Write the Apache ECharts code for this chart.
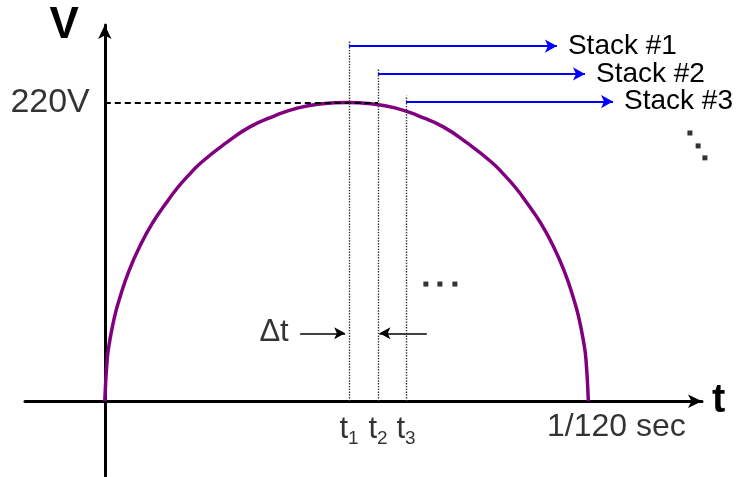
<!DOCTYPE html>
<html>
<head>
<meta charset="utf-8">
<script src="https://cdn.jsdelivr.net/npm/echarts@6/dist/echarts.min.js"></script>
<style>
  html, body { margin: 0; padding: 0; background: #fff; }
  #main { width: 738px; height: 477px; }
</style>
</head>
<body>
<div id="main"></div>
<script>
// half cycle of the voltage, time in % of 1/120 sec
const curveT = [0, 0.5, 1, 2, 3, 5, 7.5, 10, 12.5, 15, 17.5, 20, 25, 30, 35, 40, 45, 50, 55, 60, 65, 70, 75, 80, 82.5, 85, 87.5, 90, 92.5, 95, 97, 98, 99, 99.5, 100];
const curveV = [0, 31, 44, 62, 75, 96, 116, 132, 145, 157, 167, 176, 190, 202, 210, 216, 219, 220, 219, 216, 210, 202, 190, 176, 167, 157, 145, 132, 116, 96, 75, 62, 44, 31, 0];

const peakV = 220;
const peakLabel = '220V';

// sample times t1..t3 and the stacks they feed
const stackT = [50.5, 56.5, 62.3];
const stackTop = [266, 245, 225];
const stackArrowV = [261.5, 241, 220.6];
const stackArrowEnd = [93.5, 99.3, 105.1];
const stackNames = ['Stack #1', 'Stack #2', 'Stack #3'];

// t labels under the axis
const tickT = [50.5, 56.5, 62.3];
const tickSub = ['1', '2', '3'];
const endT = 100;
const endLabel = '1/120 sec';

// Δt arrows
const deltaV = 50;
const deltaLeft = [40.4, 49.7];
const deltaRight = [66.6, 56.8];
const deltaLabelPos = [35, 51];

// ellipsis dots
const dotsMid = [[66.4, 86.3], [69.3, 86.3], [72.4, 86.3]];
const dotsDiag = [[121.0, 197.5], [122.7, 188], [124.1, 179.2]];

const FONT = '"Liberation Sans", Arial, sans-serif';

const chart = echarts.init(document.getElementById('main'));

const markData = [];
// dashed 220V line
markData.push([
  { coord: [0, peakV], symbol: 'none', lineStyle: { color: '#000', width: 2, type: [6, 4] } },
  { coord: [stackT[1], peakV], symbol: 'none' }
]);
stackT.forEach((t, i) => {
  markData.push([
    { coord: [t, 0], symbol: 'none', lineStyle: { color: '#333', width: 1.4, type: [1.4, 1.4] } },
    { coord: [t, stackTop[i]], symbol: 'none' }
  ]);
  markData.push([
    { coord: [t, stackArrowV[i]], symbol: 'none', lineStyle: { color: '#0000ff', width: 2, type: 'solid' },
      label: { show: true, position: 'end', formatter: stackNames[i], color: '#000', fontSize: 28, fontFamily: FONT, distance: 11 } },
    { coord: [stackArrowEnd[i], stackArrowV[i]], symbol: 'arrow', symbolSize: [10, 12] }
  ]);
});
markData.push([
  { coord: [deltaLeft[0], deltaV], symbol: 'none', lineStyle: { color: '#000', width: 1.5, type: 'solid' } },
  { coord: [deltaLeft[1], deltaV], symbol: 'arrow', symbolSize: [9, 11] }
]);
markData.push([
  { coord: [deltaRight[0], deltaV], symbol: 'none', lineStyle: { color: '#000', width: 1.5, type: 'solid' } },
  { coord: [deltaRight[1], deltaV], symbol: 'arrow', symbolSize: [9, 11] }
]);

const labelData = tickT.map((t, i) => ({
  value: [t, 0],
  label: { formatter: '{t|t}{s|' + tickSub[i] + '}' }
}));
labelData.push({
  value: [endT, 0],
  label: { formatter: endLabel, fontSize: 32, offset: [28, 0] }
});
labelData.push({
  value: deltaLabelPos,
  label: { formatter: 'Δt', position: 'inside', fontSize: 31 }
});
labelData.push({
  value: [0, peakV],
  label: { formatter: peakLabel, position: 'left', distance: 15, fontSize: 34 }
});

chart.setOption({
  animation: false,
  grid: { left: 25, right: 36, top: 25, bottom: 1, containLabel: false, outerBoundsMode: 'none' },
  xAxis: {
    type: 'value',
    min: -16.5,
    max: 123.5,
    name: 't',
    nameLocation: 'end',
    nameGap: 10,
    nameTextStyle: { fontSize: 40, fontWeight: 'bold', color: '#000', fontFamily: FONT, verticalAlign: 'middle' },
    axisLine: { onZero: true, lineStyle: { color: '#000', width: 3 }, symbol: ['none', 'arrow'], symbolSize: [10, 14] },
    axisTick: { show: false },
    axisLabel: { show: false },
    splitLine: { show: false }
  },
  yAxis: {
    type: 'value',
    min: -55,
    max: 277,
    interval: 55,
    name: 'V',
    nameLocation: 'end',
    nameGap: -1,
    nameTextStyle: { fontSize: 44, fontWeight: 'bold', color: '#000', fontFamily: FONT, align: 'right', verticalAlign: 'middle', padding: [0, 26, 0, 0] },
    axisLine: { onZero: true, lineStyle: { color: '#000', width: 3 }, symbol: ['none', 'arrow'], symbolSize: [10, 14] },
    axisTick: { show: false },
    axisLabel: { show: false },
    splitLine: { show: false }
  },
  series: [
    {
      type: 'line',
      data: curveT.map((t, i) => [t, curveV[i]]),
      smooth: 0.5,
      showSymbol: false,
      lineStyle: { color: '#800080', width: 3.5 },
      z: 3,
      markLine: {
        silent: true,
        label: { show: false },
        emphasis: { disabled: true },
        data: markData
      }
    },
    {
      type: 'scatter',
      data: dotsMid.concat(dotsDiag),
      symbol: 'rect',
      symbolSize: 5,
      clip: false,
      itemStyle: { color: '#000' }
    },
    {
      type: 'scatter',
      data: labelData,
      symbolSize: 0,
      clip: false,
      label: {
        show: true,
        position: 'bottom',
        distance: 10,
        color: '#000',
        fontFamily: FONT,
        fontSize: 30,
        rich: {
          t: { fontSize: 31, fontFamily: FONT, color: '#000' },
          s: { fontSize: 19, fontFamily: FONT, color: '#000', padding: [18, 0, 0, 0] }
        }
      }
    }
  ]
});
</script>
</body>
</html>
